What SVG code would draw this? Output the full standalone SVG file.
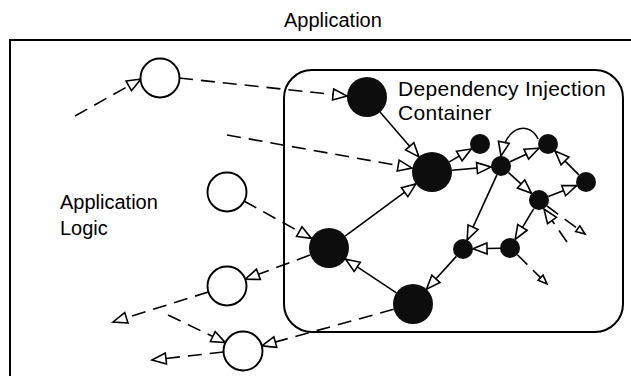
<svg xmlns="http://www.w3.org/2000/svg" width="631" height="376" viewBox="0 0 631 376">
  <style>
    .frame { fill: none; stroke: #000; stroke-width: 2; }
    .label { font-family: "Liberation Sans", Arial, sans-serif; font-size: 20px; fill: #000; }
    .big { font-size: 21px; letter-spacing: 0.3px; }
    .edge { fill: none; stroke: #000; stroke-width: 1.6; }
    .dash { stroke-dasharray: 14 8; }
    .open { fill: #fff; stroke: #000; stroke-width: 1.9; }
    .comp { fill: #0d0d0d; stroke: none; }
  </style>
  <defs>
    <marker id="tri" markerUnits="userSpaceOnUse" markerWidth="18" markerHeight="14" refX="14" refY="5.5" orient="auto" overflow="visible">
      <path d="M0,0 L14,5.5 L0,11 Z" fill="#fff" stroke="#000" stroke-width="1.6" stroke-dasharray="none" stroke-linejoin="miter"/>
    </marker>
    <marker id="triS" markerUnits="userSpaceOnUse" markerWidth="12" markerHeight="10" refX="9" refY="3.5" orient="auto" overflow="visible">
      <path d="M0,0 L9,3.5 L0,7 Z" fill="#fff" stroke="#000" stroke-width="1.6" stroke-dasharray="none"/>
    </marker>
  </defs>

  <!-- application frame -->
  <rect class="frame" x="10" y="40" width="640" height="360"/>
  <text class="label" x="284" y="27">Application</text>
  <text class="label" x="60" y="209">Application</text>
  <text class="label" x="60" y="235">Logic</text>

  <!-- container -->
  <g id="container">
    <rect class="frame" x="284" y="70" width="339" height="262" rx="28" ry="28"/>
    <text class="label big" x="398" y="96">Dependency Injection</text>
    <text class="label big" x="398" y="120">Container</text>
  </g>

  <g id="connectors">
    <!-- application logic wiring (dashed) -->
    <line class="edge dash" x1="75" y1="116" x2="141" y2="79" marker-end="url(#tri)"/>
    <line class="edge dash" x1="179" y1="78" x2="347" y2="96" marker-end="url(#tri)"/>
    <line class="edge dash" x1="227" y1="135" x2="412" y2="168" marker-end="url(#tri)"/>
    <line class="edge dash" x1="244" y1="201" x2="311.5" y2="238.4" marker-end="url(#tri)"/>
    <line class="edge dash" x1="310" y1="255" x2="245.3" y2="279.2" marker-end="url(#tri)"/>
    <line class="edge dash" x1="208.4" y1="291.9" x2="113" y2="322" marker-end="url(#tri)"/>
    <line class="edge dash" x1="168" y1="315" x2="225.4" y2="342.6" marker-end="url(#tri)"/>
    <line class="edge dash" x1="393.7" y1="309.3" x2="261.8" y2="345.8" marker-end="url(#tri)"/>
    <line class="edge dash" x1="223.6" y1="352" x2="152" y2="360" marker-end="url(#tri)"/>
    <line class="edge dash" x1="547" y1="206" x2="585" y2="234" marker-end="url(#triS)"/>
    <line class="edge dash" x1="567" y1="242" x2="544" y2="209" marker-end="url(#tri)"/>
    <line class="edge dash" x1="517.4" y1="254.8" x2="547" y2="284" marker-end="url(#triS)"/>

    <!-- container wiring (solid) -->
    <line class="edge" x1="380" y1="112" x2="418.9" y2="156.9" marker-end="url(#tri)"/>
    <line class="edge" x1="345.1" y1="236.1" x2="415.9" y2="183.9" marker-end="url(#tri)"/>
    <line class="edge" x1="396.4" y1="292.9" x2="345.6" y2="259.1" marker-end="url(#tri)"/>
    <line class="edge" x1="449.3" y1="161.9" x2="471.4" y2="149" marker-end="url(#tri)"/>
    <line class="edge" x1="451.9" y1="170.3" x2="491" y2="166.9" marker-end="url(#tri)"/>
    <line class="edge" x1="510.1" y1="161.8" x2="538.9" y2="148.2" marker-end="url(#tri)"/>
    <path class="edge" d="M538,139 C531,123 508,122 501,156" marker-end="url(#tri)"/>
    <line class="edge" x1="578.9" y1="174.9" x2="555.1" y2="151.1" marker-end="url(#tri)"/>
    <line class="edge" x1="508.5" y1="172.7" x2="531.5" y2="193.3" marker-end="url(#tri)"/>
    <line class="edge" x1="548.3" y1="196.4" x2="576.7" y2="185.6" marker-end="url(#tri)"/>
    <line class="edge" x1="496.8" y1="175.1" x2="467.2" y2="239.9" marker-end="url(#tri)"/>
    <line class="edge" x1="533.8" y1="208.6" x2="515.2" y2="239.4" marker-end="url(#tri)"/>
    <line class="edge" x1="500" y1="248.2" x2="473" y2="248.8" marker-end="url(#tri)"/>
    <line class="edge" x1="456.3" y1="256.4" x2="426.5" y2="289.2" marker-end="url(#tri)"/>
  </g>

  <!-- application objects -->
  <g id="obj-top"><circle class="open" cx="160" cy="78" r="19.5"/></g>
  <g id="obj-logic"><circle class="open" cx="227" cy="192" r="19.5"/></g>
  <g id="obj-mid"><circle class="open" cx="227" cy="286" r="19.5"/></g>
  <g id="obj-low"><circle class="open" cx="243" cy="351" r="19.5"/></g>

  <!-- managed components -->
  <g id="comp-top"><circle class="comp" cx="367" cy="97" r="20"/></g>
  <g id="comp-center"><circle class="comp" cx="432" cy="172" r="20"/></g>
  <g id="comp-left"><circle class="comp" cx="329" cy="248" r="20"/></g>
  <g id="comp-bottom"><circle class="comp" cx="413" cy="304" r="20"/></g>
  <g id="dep-a"><circle class="comp" cx="480" cy="144" r="10"/></g>
  <g id="dep-hub"><circle class="comp" cx="501" cy="166" r="10"/></g>
  <g id="dep-b"><circle class="comp" cx="548" cy="144" r="10"/></g>
  <g id="dep-c"><circle class="comp" cx="586" cy="182" r="10"/></g>
  <g id="dep-d"><circle class="comp" cx="539" cy="200" r="10"/></g>
  <g id="dep-e"><circle class="comp" cx="463" cy="249" r="10"/></g>
  <g id="dep-f"><circle class="comp" cx="510" cy="248" r="10"/></g>
</svg>
